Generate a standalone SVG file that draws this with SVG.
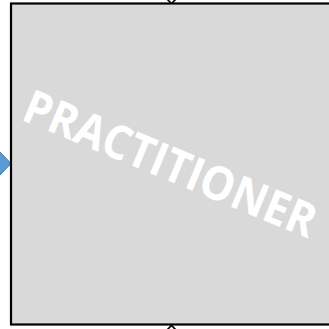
<svg xmlns="http://www.w3.org/2000/svg" width="329" height="329" viewBox="0 0 329 329">
<style>
.box{fill:#d9d9d9;stroke:#000;stroke-width:2.2}
.lbl{font-family:"Open Sans","Liberation Sans",sans-serif;font-weight:bold;fill:#fff;font-size:47px}
.tick{fill:none;stroke:#000;stroke-width:1.6}
.arr{fill:#5b9bd5;stroke:#41719c;stroke-width:1}
</style>
<g id="connectors">
<path class="tick" d="M167,-1 L171.5,3.5 L176,-1"/>
<path class="tick" d="M167,330 L171.5,325.5 L176,330"/>
<path class="arr" d="M-2,150 L11,163.5 L-2,177 Z"/>
</g>
<g id="practitioner">
<rect class="box" x="11" y="3.5" width="330" height="321"/>
<text class="lbl" x="0" y="0" text-anchor="middle" textLength="312" lengthAdjust="spacingAndGlyphs" transform="translate(164,179) rotate(22.5)">PRACTITIONER</text>
</g>
</svg>
